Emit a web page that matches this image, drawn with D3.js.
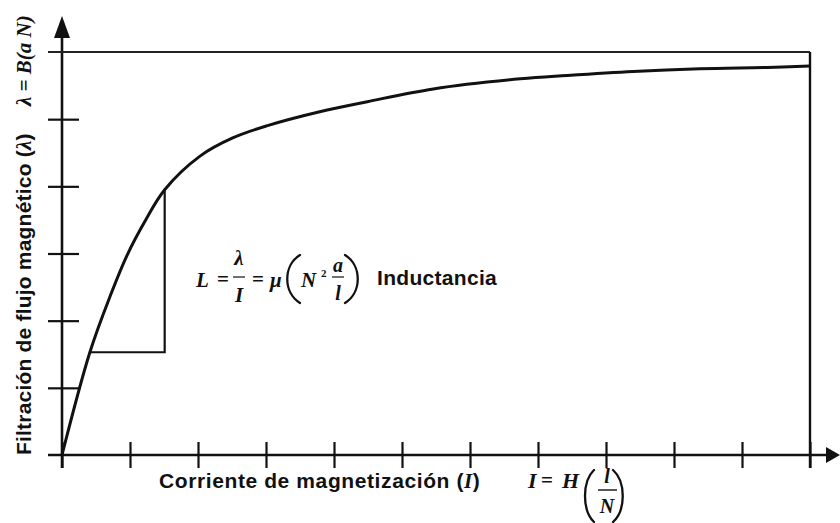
<!DOCTYPE html>
<html>
<head>
<meta charset="utf-8">
<script src="https://cdn.jsdelivr.net/npm/d3@7"></script>
<style>
  html, body { margin: 0; padding: 0; background: #fff; }
  svg { display: block; }
  .sans { font-family: "Liberation Sans", Arial, sans-serif; font-weight: bold; }
  .math { font-family: "Liberation Serif", "Times New Roman", serif; font-weight: bold; font-style: italic; }
  .op { font-family: "Liberation Serif", "Times New Roman", serif; font-weight: bold; }
</style>
</head>
<body>
<svg id="chart" width="840" height="523"></svg>
<script>
// Magnetization curve: flux linkage (λ) against magnetizing current (I), in tick units
const current = [0, 0.41, 0.71, 0.96, 1.22, 1.51, 2.03, 2.51, 3.01, 3.79, 4.49, 5.46, 6.74, 7.43, 8.40, 9.38, 10.37, 11.0];
const flux    = [0, 1.53, 2.37, 2.98, 3.48, 3.95, 4.45, 4.72, 4.90, 5.11, 5.26, 5.45, 5.60, 5.65, 5.71, 5.75, 5.77, 5.79];

// Slope triangle marking the inductance L = λ / I
const slopeCurrent = [0.41, 1.51];
const slopeFlux    = [1.53, 3.95];

// Tick positions on both axes
const xTicks = d3.range(0, 12);
const yTicks = d3.range(0, 7);

const W = 840, H = 523;
const svg = d3.select("#chart");
svg.append("rect").attr("width", W).attr("height", H).attr("fill", "#fff");

const x = d3.scaleLinear().domain([0, 11]).range([62, 810]);
const y = d3.scaleLinear().domain([0, 6]).range([455, 52]);

const ink = "#111";

// ---- axes with ticks crossing the axis line ----
const xAxis = svg.append("g")
  .attr("transform", `translate(0,${y(0)})`)
  .call(d3.axisBottom(x).tickValues(xTicks).tickFormat("").tickSizeOuter(0));
xAxis.select(".domain").remove();
xAxis.selectAll(".tick line")
  .attr("y1", -13).attr("y2", 13)
  .attr("stroke", ink).attr("stroke-width", 2.2);

const yAxis = svg.append("g")
  .attr("transform", `translate(${x(0)},0)`)
  .call(d3.axisLeft(y).tickValues(yTicks.slice(1, 6)).tickFormat("").tickSizeOuter(0));
yAxis.select(".domain").remove();
yAxis.selectAll(".tick line")
  .attr("x1", -14).attr("x2", 17)
  .attr("stroke", ink).attr("stroke-width", 2.2);

// axis lines with arrowheads
svg.append("line")
  .attr("x1", x(0) - 14).attr("x2", W - 12)
  .attr("y1", y(0)).attr("y2", y(0))
  .attr("stroke", ink).attr("stroke-width", 2.6);
svg.append("path")
  .attr("d", `M${W - 14},${y(0) - 8} L${W},${y(0)} L${W - 14},${y(0) + 8} Z`)
  .attr("fill", ink);

svg.append("line")
  .attr("x1", x(0)).attr("x2", x(0))
  .attr("y1", y(0) + 13).attr("y2", 36)
  .attr("stroke", ink).attr("stroke-width", 2.6);
svg.append("path")
  .attr("d", `M${x(0) - 8},38 L${x(0)},16 L${x(0) + 8},38 Z`)
  .attr("fill", ink);

// saturation frame: top line at the last flux tick and right edge at the last current tick
svg.append("line")
  .attr("x1", x(0) - 14).attr("x2", x(11))
  .attr("y1", y(6)).attr("y2", y(6))
  .attr("stroke", "#222").attr("stroke-width", 2);
svg.append("line")
  .attr("x1", x(11)).attr("x2", x(11))
  .attr("y1", y(6)).attr("y2", y(0) + 13)
  .attr("stroke", ink).attr("stroke-width", 2.4);

// ---- magnetization curve ----
const pts = current.map((c, i) => [c, flux[i]]);
svg.append("path")
  .datum(pts)
  .attr("fill", "none")
  .attr("stroke", ink)
  .attr("stroke-width", 3)
  .attr("stroke-linejoin", "round")
  .attr("d", d3.line().x(d => x(d[0])).y(d => y(d[1])).curve(d3.curveCatmullRom.alpha(0.5)));

// ---- slope triangle ----
svg.append("path")
  .attr("fill", "none")
  .attr("stroke", ink)
  .attr("stroke-width", 2.2)
  .attr("d", `M${x(slopeCurrent[0])},${y(slopeFlux[0])} H${x(slopeCurrent[1])} V${y(slopeFlux[1])}`);

// ---- formula helpers ----
function paren(g, x0, top, bot, bulge) {
  // bulge < 0 draws "(", bulge > 0 draws ")"
  const h = bot - top;
  g.append("path")
    .attr("d", `M${x0},${top} C${x0 + bulge},${top + h * 0.22} ${x0 + bulge},${bot - h * 0.22} ${x0},${bot}`)
    .attr("fill", "none").attr("stroke", ink).attr("stroke-width", 2.3)
    .attr("stroke-linecap", "round");
}
function put(g, cls, px, py, size, str, anchor) {
  return g.append("text").attr("class", cls).attr("x", px).attr("y", py)
    .attr("font-size", size).attr("text-anchor", anchor || "start").text(str);
}
function frac(g, cx, num, den, numBase, barY, denBase, size) {
  put(g, "math", cx, numBase, size, num, "middle");
  g.append("line").attr("x1", cx - 6).attr("x2", cx + 6)
    .attr("y1", barY).attr("y2", barY)
    .attr("stroke", ink).attr("stroke-width", 1.2);
  put(g, "math", cx, denBase, size, den, "middle");
}

// ---- inductance formula ----
const f = svg.append("g").attr("fill", ink);
const fb = 287;
put(f, "math", 196, fb, 21, "L");
put(f, "op", 217, fb - 1, 21, "=");
frac(f, 239, "λ", "I", fb - 22, fb - 10, fb + 15, 21);
put(f, "op", 252, fb - 1, 21, "=");
put(f, "math", 270, fb, 21, "μ");
paren(f, 300, 255, 303, -17);
put(f, "math", 301, fb, 21, "N");
put(f, "op", 321, fb - 10, 11, "2");
frac(f, 338, "a", "l", fb - 15, fb - 10, fb + 13, 20);
paren(f, 345, 255, 303, 17);
put(f, "sans", 377, fb - 2, 21, "Inductancia").attr("letter-spacing", 0.3);

// ---- x-axis title ----
const xt = svg.append("text").attr("class", "sans").attr("x", 159).attr("y", 488)
  .attr("font-size", 21).attr("letter-spacing", 0.6).attr("fill", ink);
xt.append("tspan").text("Corriente de magnetización (");
xt.append("tspan").attr("class", "math").text("I");
xt.append("tspan").text(")");

const g2 = svg.append("g").attr("fill", ink);
put(g2, "math", 528, 488, 22, "I");
put(g2, "op", 541, 487, 21, "=");
put(g2, "math", 562, 488, 22, "H");
paren(g2, 594, 470, 522, -12);
g2.append("line").attr("x1", 598).attr("x2", 617).attr("y1", 490).attr("y2", 490)
  .attr("stroke", ink).attr("stroke-width", 1.4);
put(g2, "math", 607, 483, 20, "l", "middle");
put(g2, "math", 607, 513, 20, "N", "middle");
paren(g2, 613, 470, 522, 13);

// ---- y-axis title (rotated) ----
const yt = svg.append("text").attr("class", "sans")
  .attr("transform", `translate(31,${y(0)}) rotate(-90)`)
  .attr("font-size", 21).attr("letter-spacing", 0.2).attr("fill", ink);
yt.append("tspan").text("Filtración de flujo magnético (");
yt.append("tspan").attr("class", "math").text("λ");
yt.append("tspan").text(")");

svg.append("text").attr("class", "math")
  .attr("transform", `translate(31,106) rotate(-90)`)
  .attr("font-size", 21).attr("fill", ink)
  .text("λ = B(a N)");
</script>
</body>
</html>
